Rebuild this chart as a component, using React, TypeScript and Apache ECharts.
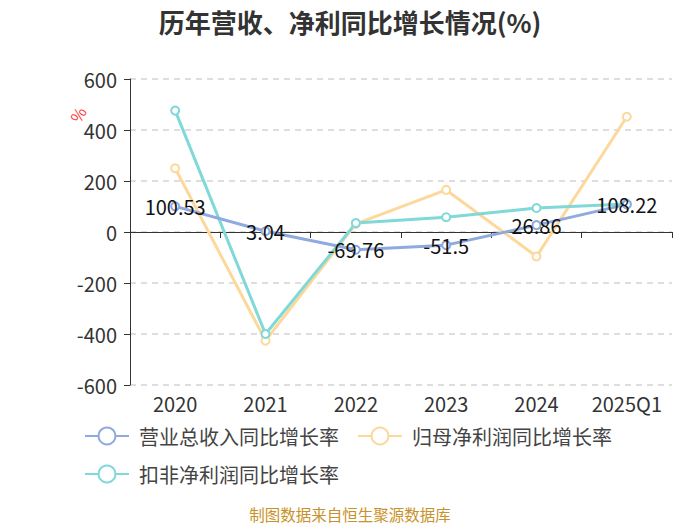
import React, { useEffect, useRef } from "react";
import * as echarts from "echarts";

const categories = ["2020", "2021", "2022", "2023", "2024", "2025Q1"];
const revenueGrowth = [100.53, 3.04, -69.76, -51.5, 26.86, 108.22];
const parentProfitGrowth = [250, -426, 32, 165, -96, 452];
const deductedProfitGrowth = [476, -400, 35, 58, 94, 110];
const yTicks = { min: -600, max: 600, interval: 200 };
const seriesNames = ["营业总收入同比增长率", "归母净利润同比增长率", "扣非净利润同比增长率"];

const FONT = "'Noto Sans CJK SC', 'Noto Sans', sans-serif";

export default function App() {
  const ref = useRef<HTMLDivElement>(null);
  useEffect(() => {
    if (!ref.current) return;
    const chart = echarts.init(ref.current, undefined, { renderer: "svg" });
    const mk = (name: string, data: number[], color: string, label: boolean) => ({
      name,
      type: "line",
      data,
      symbol: "emptyCircle",
      symbolSize: 8,
      lineStyle: { color, width: 3 },
      itemStyle: { color, borderWidth: 2 },
      label: label
        ? { show: true, position: "inside", color: "#111", fontSize: 20, fontFamily: FONT }
        : { show: false },
      z: label ? 3 : 2,
    });
    const legendBase = {
      left: 79,
      orient: "horizontal",
      itemWidth: 44,
      itemHeight: 21,
      itemGap: 18,
      textStyle: { fontSize: 20, color: "#444", fontFamily: FONT, padding: [0, 0, 0, 5] },
    };
    chart.setOption({
      animation: false,
      backgroundColor: "#fff",
      textStyle: { fontFamily: FONT },
      title: {
        text: "历年营收、净利同比增长情况(%)",
        left: "center",
        top: 3,
        textStyle: { fontSize: 26, fontWeight: "bold", color: "#333", fontFamily: FONT },
      },
      grid: { left: 130, right: 28, top: 79, bottom: 140 },
      legend: [
        { ...legendBase, top: 421, data: [seriesNames[0], seriesNames[1]] },
        { ...legendBase, top: 459, data: [seriesNames[2]] },
      ],
      xAxis: {
        type: "category",
        data: categories,
        boundaryGap: true,
        axisLine: { onZero: true, lineStyle: { color: "#333" } },
        axisTick: { show: true, length: 6 },
        axisLabel: {
          show: true,
          color: "#333",
          fontSize: 20,
          fontFamily: FONT,
          interval: 0,
          margin: 8,
        },
      },
      yAxis: {
        type: "value",
        min: yTicks.min,
        max: yTicks.max,
        interval: yTicks.interval,
        axisLine: { show: true, lineStyle: { color: "#333" } },
        axisTick: { show: true, length: 6 },
        axisLabel: { color: "#333", fontSize: 20, fontFamily: FONT, margin: 13 },
        splitLine: { lineStyle: { type: [6, 5], color: "#d3d3d3", width: 1.5 } },
      },
      graphic: [
        {
          type: "text",
          left: 67,
          top: 104,
          rotation: Math.PI / 3,
          style: { text: "%", fill: "#f33", fontSize: 16, fontFamily: FONT },
        },
        {
          type: "text",
          left: "center",
          top: 506,
          style: { text: "制图数据来自恒生聚源数据库", fill: "#c8922a", fontSize: 15.5, fontFamily: FONT },
        },
      ],
      series: [
        mk(seriesNames[0], revenueGrowth, "#8eaade", true),
        mk(seriesNames[1], parentProfitGrowth, "#fdd89b", false),
        mk(seriesNames[2], deductedProfitGrowth, "#80d8d8", false),
      ],
    });
    return () => chart.dispose();
  }, []);
  return (
    <div
      ref={ref}
      style={{ width: 700, height: 525, position: "fixed", left: 0, top: 0 }}
    />
  );
}
